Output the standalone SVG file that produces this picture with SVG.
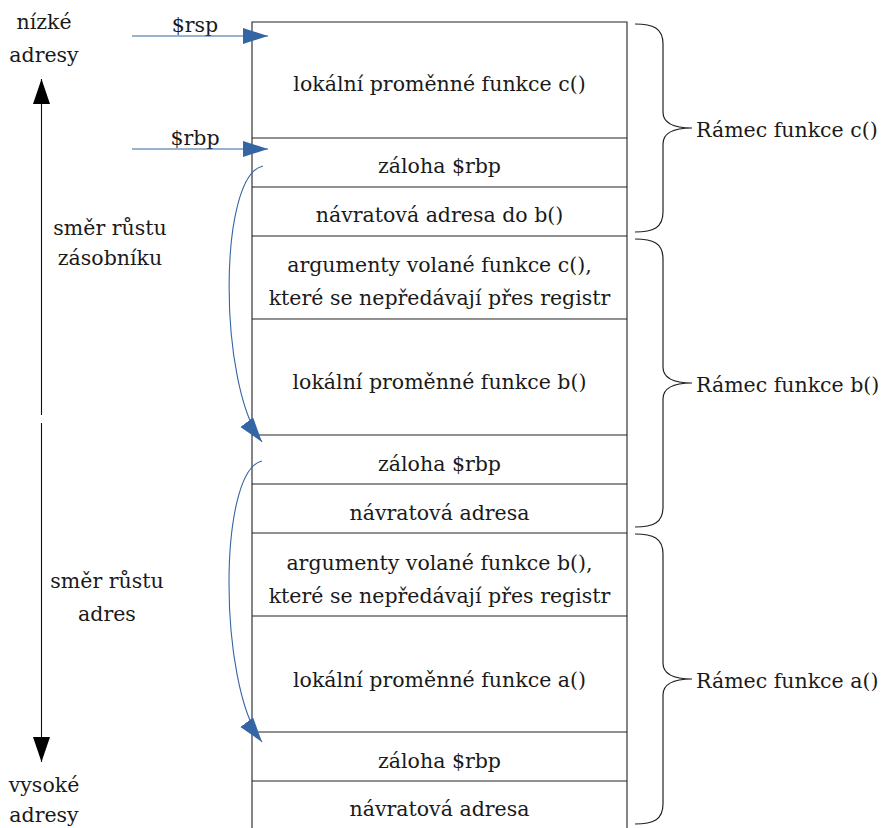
<svg xmlns="http://www.w3.org/2000/svg" width="887" height="828" viewBox="0 0 887 828">
<style>
text{font-family:"DejaVu Serif","Liberation Serif",serif;font-size:20.5px;fill:#1a1a1a}
.c{text-anchor:middle}
.box{stroke:#222;stroke-width:1.1;fill:none}
.blue{stroke:#3465a4;stroke-width:1.1;fill:none}
.blk{stroke:#111;stroke-width:1.1;fill:none}
.brace{stroke:#222;stroke-width:1.2;fill:none}
</style>
<defs>
<marker id="ab" markerWidth="26" markerHeight="18" refX="25" refY="8" orient="auto" markerUnits="userSpaceOnUse"><path d="M0,0 L25,8 L0,16 Z" fill="#3465a4"/></marker>
<marker id="ak" markerWidth="26" markerHeight="18" refX="25" refY="8.5" orient="auto" markerUnits="userSpaceOnUse"><path d="M0,0 L25,8.5 L0,17 Z" fill="#000"/></marker>
</defs>
<g id="stack">
<path class="box" d="M252,828 V22 H627 V828"/>
<path class="box" d="M252,138 H627 M252,187 H627 M252,236 H627 M252,319 H627 M252,435 H627 M252,484 H627 M252,533 H627 M252,616 H627 M252,732 H627 M252,781 H627"/>
</g>
<g id="cells">
<text class="c" x="439.5" y="91">lokální proměnné funkce c()</text>
<text class="c" x="439.5" y="173">záloha $rbp</text>
<text class="c" x="439.5" y="221.5">návratová adresa do b()</text>
<text class="c" x="439.5" y="272">argumenty volané funkce c(),</text>
<text class="c" x="439.5" y="305">které se nepředávají přes registr</text>
<text class="c" x="439.5" y="389">lokální proměnné funkce b()</text>
<text class="c" x="439.5" y="471">záloha $rbp</text>
<text class="c" x="439.5" y="520">návratová adresa</text>
<text class="c" x="439.5" y="570">argumenty volané funkce b(),</text>
<text class="c" x="439.5" y="603">které se nepředávají přes registr</text>
<text class="c" x="439.5" y="687">lokální proměnné funkce a()</text>
<text class="c" x="439.5" y="768">záloha $rbp</text>
<text class="c" x="439.5" y="816">návratová adresa</text>
</g>
<g id="braces">
<path class="brace" d="M635,24 C653,24 663,28 663,44 L663,112 C663,123 672,128 692,128 C672,128 663,133 663,144 L663,212 C663,228 653,232 635,232"/>
<path class="brace" d="M635,239 C653,239 663,243 663,259 L663,367 C663,378 672,383 692,383 C672,383 663,388 663,399 L663,507 C663,523 653,527 635,527"/>
<path class="brace" d="M635,534 C653,534 663,538 663,554 L663,663 C663,674 672,679 692,679 C672,679 663,684 663,695 L663,804 C663,820 653,824 635,824"/>
<text x="696" y="137">Rámec funkce c()</text>
<text x="696" y="392">Rámec funkce b()</text>
<text x="696" y="688">Rámec funkce a()</text>
</g>
<g id="left-labels">
<text class="c" x="44" y="29">nízké</text>
<text class="c" x="44" y="62">adresy</text>
<text class="c" x="110" y="235">směr růstu</text>
<text class="c" x="110" y="265">zásobníku</text>
<text class="c" x="107" y="588">směr růstu</text>
<text class="c" x="107" y="621">adres</text>
<text class="c" x="44" y="792">vysoké</text>
<text class="c" x="44" y="822">adresy</text>
<text class="c" x="195" y="32">$rsp</text>
<text class="c" x="195" y="145">$rbp</text>
</g>
<g id="connectors">
<path class="blk" d="M41.5,415 V79" marker-end="url(#ak)"/>
<path class="blk" d="M41.5,423 V762" marker-end="url(#ak)"/>
<path class="blue" d="M132,36 H268" marker-end="url(#ab)"/>
<path class="blue" d="M132,149 H268" marker-end="url(#ab)"/>
<path class="blue" d="M263,166 C218,175 218,385 262,442" marker-end="url(#ab)"/>
<path class="blue" d="M262,461 C218,470 218,685 262,742" marker-end="url(#ab)"/>
</g>
</svg>
